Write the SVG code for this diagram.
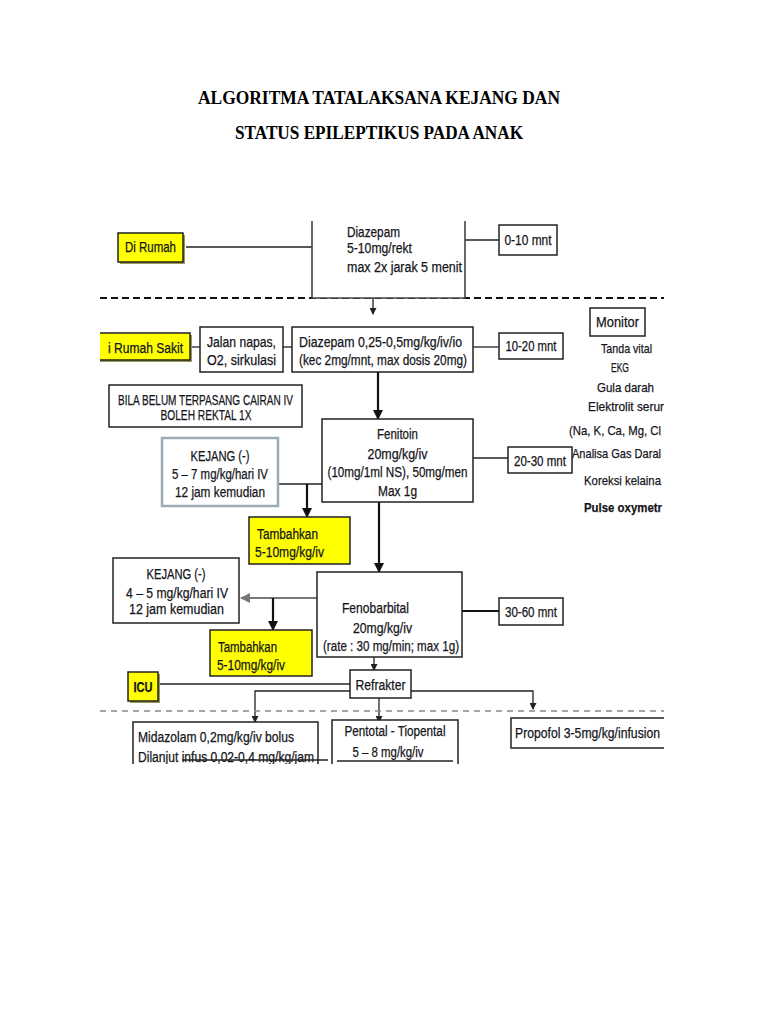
<svg xmlns="http://www.w3.org/2000/svg" width="768" height="1024" viewBox="0 0 768 1024">
<defs>
<style>
.t{font-family:"Liberation Sans",Arial,sans-serif;font-size:14px;fill:#151520;stroke:#151520;stroke-width:0.25;}
.s{font-size:13.5px;}
.m{text-anchor:middle;}
.box{fill:#fff;stroke:#222;stroke-width:1.5;}
.yb{fill:#ffff00;stroke:#222;stroke-width:1.5;}
.sh{fill:#9a9a55;}
.ln{stroke:#222;stroke-width:1.3;fill:none;}
.thick{stroke:#111;stroke-width:2.2;fill:none;}
.title{font-family:"Liberation Serif","Times New Roman",serif;font-weight:bold;font-size:18px;fill:#000;text-anchor:middle;}
</style>
<marker id="sa" markerWidth="7" markerHeight="7" refX="6" refY="3.5" orient="auto" markerUnits="userSpaceOnUse"><path d="M0,0 L7,3.5 L0,7 z" fill="#222"/></marker>
<marker id="la" markerWidth="10" markerHeight="10" refX="9" refY="5" orient="auto" markerUnits="userSpaceOnUse"><path d="M0,0 L10,5 L0,10 z" fill="#111"/></marker>
<marker id="ga" markerWidth="10" markerHeight="10" refX="9" refY="5" orient="auto" markerUnits="userSpaceOnUse"><path d="M0,0 L10,5 L0,10 z" fill="#777"/></marker>
<clipPath id="cl"><rect x="100" y="221" width="564" height="543"/></clipPath>
</defs>
<rect width="768" height="1024" fill="#fff"/>
<text class="title" x="379" y="104" textLength="362" lengthAdjust="spacingAndGlyphs">ALGORITMA TATALAKSANA KEJANG DAN</text>
<text class="title" x="379" y="139" textLength="288" lengthAdjust="spacingAndGlyphs">STATUS EPILEPTIKUS PADA ANAK</text>

<g clip-path="url(#cl)">
<g id="connectors">
<line class="ln" x1="186" y1="247" x2="312" y2="247"/>
<line class="ln" x1="465" y1="240" x2="499" y2="240"/>
<line x1="100" y1="298" x2="668" y2="298" stroke="#111" stroke-width="2" stroke-dasharray="7,4"/>
<line class="ln" x1="373" y1="298" x2="373" y2="314" marker-end="url(#sa)"/>
<line class="ln" x1="190" y1="347" x2="200" y2="347"/>
<line class="ln" x1="283" y1="347" x2="292" y2="347"/>
<line class="ln" x1="473" y1="347" x2="499" y2="347"/>
<line class="thick" x1="378" y1="372" x2="378" y2="419" marker-end="url(#la)"/>
<line class="ln" x1="473" y1="458" x2="508" y2="458"/>
<line class="ln" x1="278" y1="484" x2="322" y2="484"/>
<line class="thick" x1="307" y1="484" x2="307" y2="517" marker-end="url(#la)"/>
<line class="thick" x1="379" y1="502" x2="379" y2="572" marker-end="url(#la)"/>
<line class="thick" x1="462" y1="611" x2="499" y2="611"/>
<line x1="317" y1="598" x2="241" y2="598" stroke="#777" stroke-width="2.2" marker-end="url(#ga)"/>
<line class="thick" x1="273" y1="598" x2="273" y2="630" marker-end="url(#la)"/>
<line class="ln" x1="374" y1="657" x2="374" y2="670" marker-end="url(#sa)"/>
<line class="ln" x1="158" y1="684" x2="350" y2="684"/>
<path class="ln" d="M350,691 H255 V722" marker-end="url(#sa)"/>
<line class="ln" x1="379" y1="698" x2="379" y2="722" marker-end="url(#sa)"/>
<path class="ln" d="M411,691 H533 V709" marker-end="url(#sa)"/>
<line x1="100" y1="711" x2="668" y2="711" stroke="#888" stroke-width="1.5" stroke-dasharray="6,5"/>
</g>

<g id="di-rumah">
<rect class="sh" x="120" y="235" width="65" height="29"/>
<rect class="yb" x="118" y="233" width="65" height="29"/>
<text class="t" x="125" y="252" textLength="51" lengthAdjust="spacingAndGlyphs" fill="#1a2200">Di Rumah</text>
</g>
<g id="diazepam-rekt">
<path d="M312,221 V298 H465 V221" fill="#fff" stroke="#444" stroke-width="1.6"/>
<text class="t" x="347" y="237" textLength="53" lengthAdjust="spacingAndGlyphs">Diazepam</text>
<text class="t" x="347" y="253" textLength="65" lengthAdjust="spacingAndGlyphs">5-10mg/rekt</text>
<text class="t" x="347" y="272" textLength="115" lengthAdjust="spacingAndGlyphs">max 2x jarak  5 menit</text>
</g>
<g id="t-0-10">
<rect class="box" x="499" y="225" width="58" height="30"/>
<text class="t m" x="528" y="245" textLength="47" lengthAdjust="spacingAndGlyphs">0-10 mnt</text>
</g>

<g id="rumah-sakit">
<rect class="sh" x="97" y="335" width="95" height="27"/>
<rect class="yb" x="95" y="333" width="95" height="27"/>
<text class="t" x="108" y="353" textLength="75" lengthAdjust="spacingAndGlyphs">i Rumah Sakit</text>
</g>
<g id="jalan-napas">
<rect class="box" x="200" y="327" width="83" height="45"/>
<text class="t" x="207" y="347" textLength="69" lengthAdjust="spacingAndGlyphs">Jalan napas,</text>
<text class="t" x="207" y="365" textLength="69" lengthAdjust="spacingAndGlyphs">O2, sirkulasi</text>
</g>
<g id="diazepam-iv">
<rect class="box" x="292" y="327" width="181" height="45"/>
<text class="t" x="299" y="347" textLength="163" lengthAdjust="spacingAndGlyphs">Diazepam 0,25-0,5mg/kg/iv/io</text>
<text class="t" x="299" y="365" textLength="168" lengthAdjust="spacingAndGlyphs">(kec 2mg/mnt, max dosis 20mg)</text>
</g>
<g id="t-10-20">
<rect class="box" x="499" y="333" width="64" height="26"/>
<text class="t m" x="531" y="351" textLength="51" lengthAdjust="spacingAndGlyphs">10-20 mnt</text>
</g>

<g id="monitor">
<rect class="box" x="590" y="308" width="55" height="28"/>
<text class="t m" x="617.5" y="327" textLength="43" lengthAdjust="spacingAndGlyphs">Monitor</text>
<text class="t s" x="601" y="353" textLength="51" lengthAdjust="spacingAndGlyphs" fill="#1b1b3c">Tanda vital</text>
<text class="t s" x="611" y="372" textLength="18" lengthAdjust="spacingAndGlyphs" fill="#1a2a4a">EKG</text>
<text class="t s" x="597" y="392" textLength="57" lengthAdjust="spacingAndGlyphs" fill="#1a3a4a">Gula darah</text>
<text class="t s" x="588" y="411" textLength="76" lengthAdjust="spacingAndGlyphs">Elektrolit serur</text>
<text class="t s" x="569" y="435" textLength="92" lengthAdjust="spacingAndGlyphs">(Na, K, Ca, Mg, Cl</text>
<text class="t s" x="572" y="458" textLength="89" lengthAdjust="spacingAndGlyphs" fill="#3a1a3a">Analisa Gas Daral</text>
<text class="t s" x="584" y="485" textLength="77" lengthAdjust="spacingAndGlyphs" fill="#3a1a4a">Koreksi kelaina</text>
<text class="t s" x="584" y="512" textLength="78" lengthAdjust="spacingAndGlyphs" font-weight="bold">Pulse oxymetr</text>
</g>

<g id="bila-belum">
<rect class="box" x="109" y="385" width="193" height="42"/>
<text class="t m" x="205.5" y="405" font-size="11" textLength="175" lengthAdjust="spacingAndGlyphs">BILA BELUM TERPASANG CAIRAN IV</text>
<text class="t m" x="206" y="420" font-size="11" textLength="91" lengthAdjust="spacingAndGlyphs">BOLEH REKTAL 1X</text>
</g>

<g id="fenitoin">
<rect class="box" x="322" y="419" width="151" height="83"/>
<text class="t m" x="397.5" y="438.5" font-size="15" textLength="41" lengthAdjust="spacingAndGlyphs">Fenitoin</text>
<text class="t m" x="397.5" y="458.5" font-size="15" textLength="60" lengthAdjust="spacingAndGlyphs">20mg/kg/iv</text>
<text class="t m" x="397.5" y="476.5" font-size="15" textLength="140" lengthAdjust="spacingAndGlyphs">(10mg/1ml NS), 50mg/men</text>
<text class="t m" x="397.5" y="495.5" font-size="15" textLength="39" lengthAdjust="spacingAndGlyphs">Max 1g</text>
</g>
<g id="t-20-30">
<rect class="box" x="508" y="447" width="64" height="26"/>
<text class="t m" x="540" y="465.5" textLength="52" lengthAdjust="spacingAndGlyphs">20-30 mnt</text>
</g>
<g id="kejang-1">
<rect x="162" y="438" width="116" height="68" fill="#fff" stroke="#9aabb3" stroke-width="2.5"/>
<text class="t m" x="220" y="460.5" font-size="15" textLength="59" lengthAdjust="spacingAndGlyphs">KEJANG (-)</text>
<text class="t m" x="220" y="478.5" font-size="15" textLength="96" lengthAdjust="spacingAndGlyphs">5 – 7 mg/kg/hari IV</text>
<text class="t m" x="220" y="496.5" font-size="15" textLength="90" lengthAdjust="spacingAndGlyphs">12 jam kemudian</text>
</g>
<g id="tambahkan-1">
<rect class="yb" x="249" y="517" width="101" height="47"/>
<text class="t" x="257" y="538.5" textLength="61" lengthAdjust="spacingAndGlyphs">Tambahkan</text>
<text class="t" x="255" y="556.5" textLength="69" lengthAdjust="spacingAndGlyphs">5-10mg/kg/iv</text>
</g>

<g id="fenobarbital">
<rect class="box" x="317" y="572" width="145" height="85"/>
<text class="t" x="342" y="612.5" textLength="67" lengthAdjust="spacingAndGlyphs">Fenobarbital</text>
<text class="t" x="353" y="632.5" textLength="59" lengthAdjust="spacingAndGlyphs">20mg/kg/iv</text>
<text class="t" x="323" y="650.5" textLength="136" lengthAdjust="spacingAndGlyphs">(rate : 30 mg/min; max 1g)</text>
</g>
<g id="t-30-60">
<rect class="box" x="499" y="598" width="64" height="27"/>
<text class="t m" x="531" y="616.5" textLength="52" lengthAdjust="spacingAndGlyphs">30-60 mnt</text>
</g>
<g id="kejang-2">
<rect class="box" x="113" y="558" width="126" height="65"/>
<text class="t m" x="176" y="578.5" textLength="59" lengthAdjust="spacingAndGlyphs">KEJANG (-)</text>
<text class="t m" x="177" y="597.5" textLength="102" lengthAdjust="spacingAndGlyphs">4 – 5  mg/kg/hari IV</text>
<text class="t m" x="176.5" y="613.5" textLength="95" lengthAdjust="spacingAndGlyphs">12 jam  kemudian</text>
</g>
<g id="tambahkan-2">
<rect class="yb" x="210" y="630" width="102" height="46"/>
<text class="t" x="218" y="652" textLength="59" lengthAdjust="spacingAndGlyphs">Tambahkan</text>
<text class="t" x="217" y="670" textLength="68" lengthAdjust="spacingAndGlyphs">5-10mg/kg/iv</text>
</g>

<g id="refrakter">
<rect class="box" x="350" y="670" width="61" height="28"/>
<text class="t m" x="380.5" y="689.5" textLength="50" lengthAdjust="spacingAndGlyphs">Refrakter</text>
</g>
<g id="icu">
<rect class="sh" x="130" y="674" width="30" height="29"/>
<rect class="yb" x="128" y="672" width="30" height="29"/>
<text class="t m" x="143" y="691.5" font-weight="bold" textLength="19" lengthAdjust="spacingAndGlyphs">ICU</text>
</g>

<g id="midazolam">
<rect class="box" x="133" y="722" width="185" height="60"/>
<text class="t" x="138" y="742" textLength="156" lengthAdjust="spacingAndGlyphs">Midazolam 0,2mg/kg/iv bolus</text>
<text class="t" x="138" y="762" textLength="176" lengthAdjust="spacingAndGlyphs">Dilanjut infus 0,02-0,4 mg/kg/jam</text>
<line x1="182" y1="760" x2="328" y2="760" stroke="#222" stroke-width="1.3"/>
</g>
<g id="pentotal">
<rect class="box" x="332" y="720" width="126" height="60"/>
<text class="t m" x="395" y="735.5" textLength="101" lengthAdjust="spacingAndGlyphs">Pentotal - Tiopental</text>
<text class="t m" x="388" y="756.5" textLength="71" lengthAdjust="spacingAndGlyphs">5 – 8 mg/kg/iv</text>
<line x1="337" y1="761" x2="453" y2="761" stroke="#222" stroke-width="1.3"/>
</g>
<g id="propofol">
<rect class="box" x="511" y="718" width="160" height="30"/>
<text class="t" x="515" y="738" textLength="145" lengthAdjust="spacingAndGlyphs">Propofol 3-5mg/kg/infusion</text>
</g>
</g>
</svg>
